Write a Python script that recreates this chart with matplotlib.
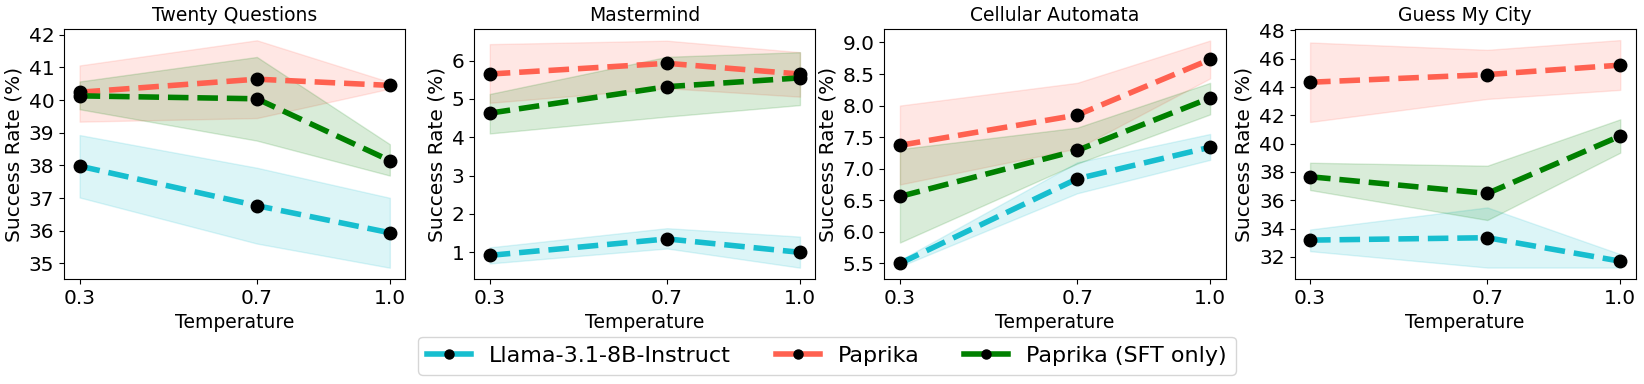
import matplotlib
matplotlib.use("Agg")
import matplotlib.pyplot as plt
from matplotlib.lines import Line2D
import numpy as np

temps = [0.3, 0.7, 1.0]
titles = ["Twenty Questions", "Mastermind", "Cellular Automata", "Guess My City"]
models = ["Llama-3.1-8B-Instruct", "Paprika", "Paprika (SFT only)"]
colors = ["#17becf", "#ff6150", "green"]

# Twenty Questions
tq_mean = [[37.98, 36.77, 35.94], [40.24, 40.64, 40.45], [40.13, 40.04, 38.15]]
tq_low = [[37.02, 35.61, 34.87], [39.34, 39.45, 40.35], [39.72, 38.76, 37.69]]
tq_high = [[38.93, 37.93, 37.01], [41.06, 41.83, 40.55], [40.57, 41.32, 38.65]]
# Mastermind
mm_mean = [[0.92, 1.35, 1.00], [5.65, 5.93, 5.65], [4.63, 5.32, 5.55]]
mm_low = [[0.71, 1.10, 0.60], [4.90, 5.28, 5.06], [4.10, 4.54, 4.84]]
mm_high = [[1.13, 1.63, 1.41], [6.43, 6.52, 6.22], [5.13, 6.10, 6.22]]
# Cellular Automata
ca_mean = [[5.50, 6.84, 7.34], [7.37, 7.85, 8.73], [6.56, 7.29, 8.12]]
ca_low = [[5.45, 6.61, 7.14], [6.75, 7.32, 8.43], [5.83, 7.08, 7.86]]
ca_high = [[5.55, 7.10, 7.55], [8.00, 8.36, 9.03], [7.31, 7.65, 8.36]]
# Guess My City
gc_mean = [[33.18, 33.35, 31.69], [44.34, 44.88, 45.55], [37.66, 36.48, 40.54]]
gc_low = [[32.40, 31.24, 31.24], [41.53, 43.16, 43.80], [36.72, 34.60, 39.36]]
gc_high = [[33.93, 35.49, 32.19], [47.15, 46.63, 47.32], [38.65, 38.44, 41.72]]

panels = [(tq_mean, tq_low, tq_high), (mm_mean, mm_low, mm_high),
          (ca_mean, ca_low, ca_high), (gc_mean, gc_low, gc_high)]
yticks = [[35, 36, 37, 38, 39, 40, 41, 42], [1, 2, 3, 4, 5, 6],
          [5.5, 6.0, 6.5, 7.0, 7.5, 8.0, 8.5, 9.0], [32, 34, 36, 38, 40, 42, 44, 46, 48]]
ylims = [(34.52, 42.17), (0.30, 6.82), (5.25, 9.21), (30.42, 48.09)]
ytickfmt = ["{:.0f}", "{:.0f}", "{:.1f}", "{:.0f}"]

fig, axes = plt.subplots(1, 4, figsize=(16.44, 3.84), dpi=100)
fig.subplots_adjust(left=0.039, right=0.995, top=0.924, bottom=0.273, wspace=0.202)

for ax, (mean, low, high), title, yt, yl, fmt in zip(axes, panels, titles, yticks, ylims, ytickfmt):
    for i in range(3):
        ax.fill_between(temps, low[i], high[i], color=colors[i], alpha=0.15)
        ax.plot(temps, mean[i], linestyle="--", color=colors[i], linewidth=4,
                marker="o", markersize=9, markerfacecolor="black",
                markeredgecolor="black", label=models[i])
    ax.set_title(title, fontsize=13.5)
    ax.set_xticks(temps)
    ax.set_xticklabels(["0.3", "0.7", "1.0"], fontsize=14.5)
    ax.set_yticks(yt)
    ax.set_yticklabels([fmt.format(v) for v in yt], fontsize=14.5)
    ax.set_ylim(*yl)
    ax.set_xlabel("Temperature", fontsize=13.5)
    ax.set_ylabel("Success Rate (%)", fontsize=14.5)

handles = [Line2D([], [], color=c, linestyle="-", linewidth=4, marker="o",
                  markersize=6.5, markerfacecolor="black", markeredgecolor="black")
           for c in colors]
fig.legend(handles, models, loc="lower center", bbox_to_anchor=(0.503, -0.005),
           ncol=3, fontsize=16, columnspacing=2.0)
fig.savefig("out.png", dpi=100)
